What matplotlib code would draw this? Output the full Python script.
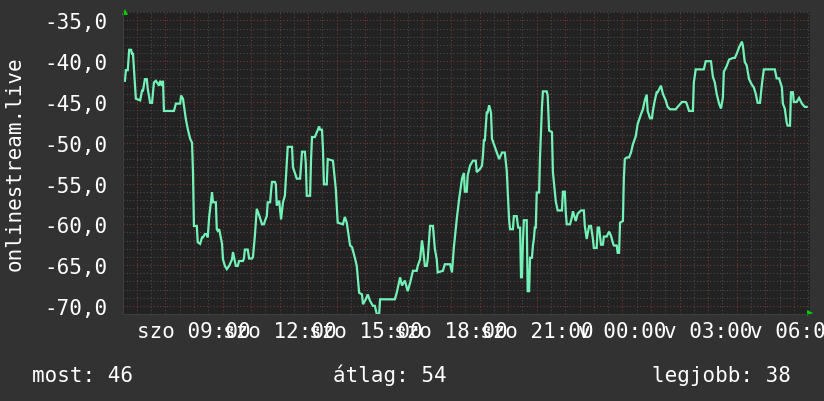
import numpy as np
import matplotlib
matplotlib.use("Agg")
import matplotlib.pyplot as plt

# rrdtool style 24h graph, start of window = 06:31
start_clock = 6 * 60 + 31
span_min = 1443

# samples: minutes since window start, value
minutes = [4, 6, 10, 13, 17, 19, 21, 27, 36, 40, 42, 46, 50, 52, 57, 61, 65, 69, 76, 78,
           82, 84, 86, 107, 111, 120, 122, 126, 132, 136, 141, 145, 147, 149, 155, 157, 162, 166, 168, 172,
           176, 178, 181, 187, 189, 195, 197, 199, 202, 208, 210, 214, 218, 223, 229, 231, 237, 241, 244, 252,
           254, 256, 262, 265, 271, 273, 277, 281, 286, 292, 296, 298, 302, 304, 309, 311, 313, 319, 321, 323,
           328, 332, 336, 340, 344, 346, 355, 357, 365, 372, 376, 382, 384, 386, 393, 395, 397, 403, 412, 414,
           418, 420, 422, 428, 430, 441, 447, 451, 462, 466, 470, 477, 481, 487, 491, 496, 502, 504, 510, 514,
           519, 525, 529, 533, 538, 540, 546, 571, 575, 582, 586, 592, 598, 603, 609, 617, 619, 624, 628, 630,
           634, 638, 640, 645, 651, 655, 659, 661, 672, 676, 687, 691, 695, 701, 706, 712, 716, 718, 722, 724,
           729, 735, 741, 743, 750, 754, 756, 758, 760, 764, 766, 769, 773, 775, 781, 785, 790, 796, 802, 806,
           811, 813, 819, 821, 827, 830, 834, 836, 838, 840, 842, 848, 850, 853, 855, 859, 861, 863, 865, 867,
           869, 874, 876, 880, 882, 890, 892, 895, 901, 903, 909, 913, 922, 924, 928, 930, 932, 939, 943, 945,
           951, 955, 962, 968, 970, 974, 979, 983, 987, 989, 995, 997, 1000, 1004, 1008, 1010, 1016, 1021, 1025, 1029,
           1031, 1037, 1039, 1042, 1044, 1050, 1052, 1054, 1058, 1063, 1067, 1071, 1077, 1081, 1088, 1092, 1096, 1100, 1102, 1107,
           1111, 1113, 1117, 1121, 1123, 1130, 1134, 1140, 1144, 1149, 1161, 1165, 1174, 1182, 1184, 1189, 1197, 1199, 1203, 1220,
           1224, 1235, 1239, 1243, 1247, 1252, 1256, 1260, 1262, 1268, 1273, 1281, 1285, 1289, 1294, 1300, 1302, 1306, 1310, 1315,
           1321, 1325, 1329, 1333, 1338, 1342, 1346, 1369, 1373, 1378, 1384, 1386, 1390, 1394, 1396, 1401, 1403, 1407, 1409, 1415,
           1420, 1426, 1432, 1436]
values = [-42.4, -41.1, -41.1, -38.6, -38.6, -39.1, -39.1, -44.6, -44.8, -43.6, -43.6, -42.2, -42.2, -43.4, -45.1, -45.1, -42.6, -42.4, -43.0, -42.4,
          -43.0, -42.4, -46.1, -46.1, -45.2, -45.2, -44.2, -44.6, -47.1, -48.3, -49.5, -50.0, -53.6, -60.2, -60.2, -62.2, -62.4, -61.6, -61.6, -61.2,
          -61.2, -61.6, -59.1, -56.1, -57.3, -57.3, -60.6, -60.8, -60.6, -62.4, -64.3, -65.1, -65.5, -65.1, -64.3, -63.4, -65.1, -65.1, -64.5, -64.5,
          -64.2, -63.1, -63.1, -64.2, -64.2, -64.0, -61.4, -58.1, -58.9, -60.0, -60.0, -59.6, -59.0, -57.3, -57.3, -55.9, -54.8, -54.8, -55.1, -57.7,
          -57.1, -59.4, -57.3, -56.5, -52.4, -50.5, -50.5, -53.0, -54.4, -54.4, -51.1, -51.1, -52.5, -56.5, -56.5, -52.0, -49.3, -49.3, -48.0, -48.4,
          -48.4, -50.8, -55.1, -55.1, -52.0, -52.2, -55.7, -59.8, -60.0, -59.1, -59.8, -62.6, -62.8, -64.1, -65.1, -68.4, -68.6, -69.8, -69.2, -68.6,
          -69.4, -70.0, -70.0, -71.0, -71.0, -69.2, -69.2, -69.2, -68.4, -66.5, -67.5, -66.9, -68.2, -67.2, -65.7, -65.7, -65.1, -64.3, -62.0, -62.8,
          -65.1, -65.1, -64.3, -60.2, -60.2, -63.0, -64.3, -65.9, -65.7, -64.9, -64.9, -65.9, -62.8, -59.4, -56.9, -54.4, -53.7, -56.0, -56.0, -54.0,
          -52.8, -52.2, -52.2, -53.6, -53.2, -52.8, -51.6, -49.7, -49.7, -46.3, -46.3, -45.4, -46.3, -49.5, -50.5, -51.2, -52.0, -51.2, -51.2, -53.4,
          -59.5, -60.6, -60.6, -59.0, -59.0, -60.4, -60.4, -66.5, -66.5, -62.0, -59.5, -59.5, -68.2, -68.2, -64.1, -64.1, -62.6, -61.8, -60.4, -60.4,
          -56.1, -56.1, -51.6, -45.6, -43.7, -43.7, -44.2, -48.5, -48.7, -53.6, -57.2, -58.3, -58.3, -56.0, -56.0, -58.5, -60.0, -60.0, -59.1, -58.4,
          -59.6, -58.7, -58.3, -58.3, -60.2, -61.8, -60.2, -60.2, -61.8, -62.9, -62.9, -60.4, -60.4, -62.5, -62.5, -61.5, -61.5, -60.9, -61.4, -62.3,
          -62.6, -62.6, -63.5, -63.5, -59.8, -59.6, -54.4, -52.0, -51.8, -51.8, -51.2, -50.2, -49.2, -47.7, -46.5, -45.9, -44.8, -44.1, -46.1, -47.0,
          -47.0, -46.1, -44.8, -43.8, -43.8, -43.0, -44.0, -44.8, -45.6, -45.9, -45.9, -45.6, -45.0, -45.0, -45.2, -46.1, -46.1, -42.6, -41.0, -41.0,
          -40.0, -40.0, -41.9, -42.6, -44.0, -45.2, -45.8, -44.5, -41.3, -40.6, -39.8, -39.6, -39.6, -39.1, -38.3, -37.6, -38.1, -40.1, -40.5, -42.2,
          -42.9, -43.2, -44.0, -45.1, -45.1, -42.8, -41.0, -41.0, -42.1, -42.1, -43.2, -45.2, -45.8, -47.5, -47.9, -47.9, -43.8, -43.8, -45.0, -45.0,
          -44.5, -45.2, -45.6, -45.6]

y_ticks = [-35, -40, -45, -50, -55, -60, -65, -70]
x_labels = ["szo 09:00", "szo 12:00", "szo 15:00", "szo 18:00", "szo 21:00",
            "v 00:00", "v 03:00", "v 06:00"]
x_label_clock = [9, 12, 15, 18, 21, 24, 27, 30]  # hours since midnight saturday
y_title = "onlinestream.live"

bg = "#323232"
canvas = "#222222"
fg = "#ffffff"
line_col = "#73f2b8"
font = "DejaVu Sans Mono"
fs = 15

plt.rcParams['font.family'] = font

fig = plt.figure(figsize=(8.24, 4.02), dpi=100, facecolor=bg)
ax = fig.add_axes([123 / 824, 1 - 315 / 402, 687 / 824, (315 - 13.3) / 402])
ax.set_facecolor(canvas)

ax.plot(minutes, values, color=line_col, lw=1.6, solid_joinstyle="miter")
ax.set_xlim(0, span_min)
ax.set_ylim(-71, -34)

# grid: gray every unit / half hour, red every 5 units / full hour
minor_y = [v for v in range(-71, -33) if v % 5 != 0]
for v in minor_y:
    ax.axhline(v, color="#4a4a4a", lw=0.8, ls=(0, (1, 2)), zorder=0)
for v in y_ticks:
    ax.axhline(v, color="#7a3636", lw=0.8, ls=(0, (1, 2)), zorder=0.5)
first_half = 30 - start_clock % 30
for m in range(first_half, span_min, 30):
    clock = (start_clock + m) % 1440
    if clock % 60 == 0:
        ax.axvline(m, color="#7a3636", lw=0.8, ls=(0, (1, 2)), zorder=0.5)
    else:
        ax.axvline(m, color="#4a4a4a", lw=0.8, ls=(0, (1, 2)), zorder=0)

ax.set_yticks(y_ticks)
ax.set_yticklabels([f"{v:.1f}".replace(".", ",") for v in y_ticks])
x_pos = [h * 60 - start_clock for h in x_label_clock]
ax.set_xticks(x_pos)
ax.set_xticklabels(x_labels)
ax.tick_params(axis="both", length=0, colors=fg, labelsize=fs)
ax.tick_params(axis="y", pad=11.5)
ax.tick_params(axis="x", pad=5)
for s in ax.spines.values():
    s.set_visible(False)
ax.spines["left"].set_visible(True)
ax.spines["bottom"].set_visible(True)
ax.spines["left"].set_color("#3c3c3c")
ax.spines["bottom"].set_color("#3c3c3c")

# arrows at axis ends
ax.plot([0.003], [1.0], marker="^", color="#00d000", ms=5, mew=0,
        transform=ax.transAxes, clip_on=False)
ax.plot([1.0], [0.003], marker=">", color="#00d000", ms=5, mew=0,
        transform=ax.transAxes, clip_on=False)

fig.text(0.018, 1 - 164 / 402, y_title, rotation=90, color=fg, fontsize=fs,
         ha="center", va="center")

# legend line below
last = values[-1]
avg = np.mean(np.interp(np.arange(minutes[0], minutes[-1]), minutes, values))
best = max(values)
base = 1 - 382 / 402
fig.text(32 / 824, base, f"most: {abs(last):.0f}", color=fg, fontsize=fs, va="baseline")
fig.text(333 / 824, base, f"átlag: {abs(avg):.0f}", color=fg, fontsize=fs, va="baseline")
fig.text(791 / 824, base, f"legjobb: {abs(best):.0f}", color=fg, fontsize=fs, va="baseline", ha="right")

fig.savefig("out.png", dpi=100, facecolor=bg)
